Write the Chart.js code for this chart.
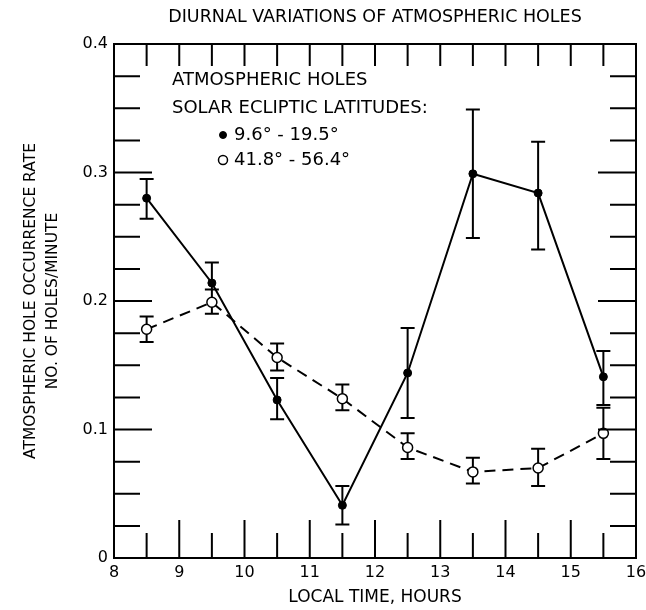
<!DOCTYPE html>
<html>
<head>
<meta charset="utf-8">
<script src="https://cdn.jsdelivr.net/npm/chart.js@4.4.1/dist/chart.umd.min.js"></script>
<style>
    html, body { margin: 0; padding: 0; background: #fff; }
    #wrap { width: 646px; height: 610px; }
</style>
</head>
<body>
<div id="wrap"><canvas id="holes-chart" width="646" height="610"></canvas></div>
<script>
(function () {
    'use strict';

    // local time (hours) of each bin centre
    var hours = [8.5, 9.5, 10.5, 11.5, 12.5, 13.5, 14.5, 15.5];

    // solar ecliptic latitudes 9.6 - 19.5 deg (filled dots, solid line)
    var lowLatRate = [0.280, 0.214, 0.123, 0.041, 0.144, 0.299, 0.284, 0.141];
    var lowLatErrLow = [0.264, 0.209, 0.108, 0.026, 0.109, 0.249, 0.240, 0.119];
    var lowLatErrHigh = [0.295, 0.230, 0.140, 0.056, 0.179, 0.349, 0.324, 0.161];

    // solar ecliptic latitudes 41.8 - 56.4 deg (open circles, dashed line)
    var highLatRate = [0.178, 0.199, 0.156, 0.124, 0.086, 0.067, 0.070, 0.097];
    var highLatErrLow = [0.168, 0.190, 0.146, 0.115, 0.077, 0.058, 0.056, 0.077];
    var highLatErrHigh = [0.188, 0.209, 0.167, 0.135, 0.097, 0.078, 0.085, 0.117];

    var xTickValues = [8, 9, 10, 11, 12, 13, 14, 15, 16];
    var yTickValues = [0, 0.1, 0.2, 0.3, 0.4];

    var chartTitle = 'DIURNAL VARIATIONS OF ATMOSPHERIC HOLES';
    var legendHeading = ['ATMOSPHERIC HOLES', 'SOLAR ECLIPTIC LATITUDES:'];
    var seriesLabels = ['9.6\u00b0 - 19.5\u00b0', '41.8\u00b0 - 56.4\u00b0'];

    var FONT = '"DejaVu Sans", "Liberation Sans", sans-serif';
    var INK = '#000';

    function toPoints(xs, ys) {
        return xs.map(function (x, i) {
            return { x: x, y: ys[i] };
        });
    }

    // frame with inward ticks on all four sides
    var frameTicks = {
        id: 'frameTicks',
        afterDatasetsDraw: function (chart) {
            var ctx = chart.ctx;
            var a = chart.chartArea;
            var xs = chart.scales.x;
            var ys = chart.scales.y;
            var i, px, py, major;

            ctx.save();
            ctx.strokeStyle = INK;
            ctx.lineWidth = 2;
            ctx.strokeRect(a.left, a.top, a.right - a.left, a.bottom - a.top);

            ctx.beginPath();
            for (i = 1; i < 16; i++) {
                px = xs.getPixelForValue(8 + i * 0.5);
                major = i % 2 === 0;
                ctx.moveTo(px, a.bottom);
                ctx.lineTo(px, a.bottom - (major ? 38 : 25));
                ctx.moveTo(px, a.top);
                ctx.lineTo(px, a.top + 22);
            }
            for (i = 1; i < 16; i++) {
                py = ys.getPixelForValue(i * 0.025);
                major = i % 4 === 0;
                ctx.moveTo(a.left, py);
                ctx.lineTo(a.left + (major ? 38 : 26), py);
                ctx.moveTo(a.right, py);
                ctx.lineTo(a.right - (major ? 38 : 26), py);
            }
            ctx.stroke();
            ctx.restore();
        }
    };

    // vertical error bars with caps, drawn under the markers
    var errorBars = {
        id: 'errorBars',
        beforeDatasetsDraw: function (chart) {
            var ctx = chart.ctx;
            var xs = chart.scales.x;
            var ys = chart.scales.y;
            var sets = [[lowLatErrLow, lowLatErrHigh], [highLatErrLow, highLatErrHigh]];

            ctx.save();
            ctx.strokeStyle = INK;
            ctx.lineWidth = 2;
            ctx.beginPath();
            sets.forEach(function (pair) {
                hours.forEach(function (h, i) {
                    var px = xs.getPixelForValue(h);
                    var lo = ys.getPixelForValue(pair[0][i]);
                    var hi = ys.getPixelForValue(pair[1][i]);
                    ctx.moveTo(px, lo);
                    ctx.lineTo(px, hi);
                    ctx.moveTo(px - 7, lo);
                    ctx.lineTo(px + 7, lo);
                    ctx.moveTo(px - 7, hi);
                    ctx.lineTo(px + 7, hi);
                });
            });
            ctx.stroke();
            ctx.restore();
        }
    };

    // title above the plot and the key written inside it
    var annotations = {
        id: 'annotations',
        afterDraw: function (chart) {
            var ctx = chart.ctx;
            var a = chart.chartArea;
            var left = a.left + 58;

            ctx.save();
            ctx.fillStyle = INK;
            ctx.textBaseline = 'middle';

            ctx.font = '17.5px ' + FONT;
            ctx.textAlign = 'center';
            ctx.fillText(chartTitle, (a.left + a.right) / 2, 17);

            ctx.font = '18px ' + FONT;
            ctx.textAlign = 'left';
            ctx.fillText(legendHeading[0], left, 80);
            ctx.fillText(legendHeading[1], left, 108);

            chart.data.datasets.forEach(function (ds, i) {
                var y = 135 + i * 25;
                ctx.beginPath();
                ctx.arc(left + 51, y, ds.pointRadius - 0.5, 0, Math.PI * 2);
                ctx.fillStyle = ds.pointBackgroundColor;
                ctx.fill();
                ctx.lineWidth = ds.pointBorderWidth;
                ctx.strokeStyle = INK;
                ctx.stroke();
                ctx.fillStyle = INK;
                ctx.fillText(seriesLabels[i], left + 62, y);
            });
            ctx.restore();
        }
    };

    function init() {
        if (typeof Chart === 'undefined') {
            return;
        }

        var canvas = document.getElementById('holes-chart');

        new Chart(canvas, {
            type: 'line',
            data: {
                datasets: [
                    {
                        label: seriesLabels[0],
                        data: toPoints(hours, lowLatRate),
                        borderColor: INK,
                        borderWidth: 2,
                        pointRadius: 4,
                        pointBorderWidth: 1,
                        pointBackgroundColor: INK,
                        pointBorderColor: INK,
                        tension: 0,
                        fill: false
                    },
                    {
                        label: seriesLabels[1],
                        data: toPoints(hours, highLatRate),
                        borderColor: INK,
                        borderWidth: 2,
                        borderDash: [11, 7],
                        pointRadius: 5,
                        pointBorderWidth: 1.5,
                        pointBackgroundColor: '#fff',
                        pointBorderColor: INK,
                        tension: 0,
                        fill: false
                    }
                ]
            },
            options: {
                responsive: false,
                animation: false,
                maintainAspectRatio: false,
                layout: {
                    padding: { top: 44, right: 10, left: 0, bottom: 0 }
                },
                plugins: {
                    legend: { display: false },
                    title: { display: false },
                    tooltip: { enabled: false }
                },
                scales: {
                    x: {
                        type: 'linear',
                        min: 8,
                        max: 16,
                        grid: { display: false, drawTicks: false },
                        border: { display: false },
                        afterBuildTicks: function (scale) {
                            scale.ticks = xTickValues.map(function (v) { return { value: v }; });
                        },
                        afterFit: function (scale) {
                            scale.height = 52;
                            scale.paddingLeft = 0;
                            scale.paddingRight = 0;
                        },
                        ticks: {
                            color: INK,
                            padding: 5,
                            maxRotation: 0,
                            font: { family: FONT, size: 16 }
                        },
                        title: {
                            display: true,
                            text: 'LOCAL TIME, HOURS',
                            color: INK,
                            font: { family: FONT, size: 17 },
                            padding: { top: 0, bottom: 2 }
                        }
                    },
                    y: {
                        type: 'linear',
                        min: 0,
                        max: 0.4,
                        grid: { display: false, drawTicks: false },
                        border: { display: false },
                        afterBuildTicks: function (scale) {
                            scale.ticks = yTickValues.map(function (v) { return { value: v }; });
                        },
                        afterFit: function (scale) {
                            scale.width = 114;
                            scale.paddingTop = 0;
                            scale.paddingBottom = 0;
                        },
                        ticks: {
                            color: INK,
                            padding: 6,
                            font: { family: FONT, size: 16 },
                            callback: function (value) {
                                return value === 0 ? '0' : value.toFixed(1);
                            }
                        },
                        title: {
                            display: true,
                            text: ['ATMOSPHERIC HOLE OCCURRENCE RATE', 'NO. OF HOLES/MINUTE'],
                            color: INK,
                            font: { family: FONT, size: 15.5, lineHeight: 1.42 },
                            padding: { top: 20, bottom: 0 }
                        }
                    }
                }
            },
            plugins: [errorBars, frameTicks, annotations]
        });
    }

    if (document.readyState === 'loading') {
        document.addEventListener('DOMContentLoaded', init);
    } else {
        init();
    }
})();
</script>
</body>
</html>
